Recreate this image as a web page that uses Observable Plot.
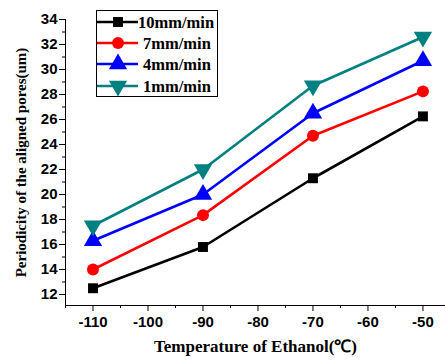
<!DOCTYPE html>
<html>
<head>
<meta charset="utf-8">
<script src="https://cdn.jsdelivr.net/npm/d3@7"></script>
<script src="https://cdn.jsdelivr.net/npm/@observablehq/plot@0.6"></script>
<style>
  html, body { margin: 0; padding: 0; background: #fff; }
  #chart { position: relative; width: 445px; height: 360px; }
</style>
</head>
<body>
<div id="chart"></div>
<script>
const temperatures = [-110, -90, -70, -50];
const seriesNames = ["10mm/min", "7mm/min", "4mm/min", "1mm/min"];
const seriesColors = ["#000000", "#ff0000", "#0000ff", "#008080"];
const seriesSymbols = ["square", "circle", "triangle", "triangle"];
const seriesRotate = [0, 0, 0, 180];
const v10 = [12.5, 15.8, 21.3, 26.25];
const v7 = [14.0, 18.35, 24.7, 28.25];
const v4 = [16.3, 20.0, 26.5, 30.7];
const v1 = [17.5, 22.0, 28.7, 32.6];
const seriesValues = [v10, v7, v4, v1];
const xMajorTicks = [-110, -100, -90, -80, -70, -60, -50];
const xMinorTicks = [-115, -105, -95, -85, -75, -65, -55];
const yMajorTicks = [12, 14, 16, 18, 20, 22, 24, 26, 28, 30, 32, 34];
const yMinorTicks = [13, 15, 17, 19, 21, 23, 25, 27, 29, 31, 33];
const xLabel = "Temperature of Ethanol(℃)";
const yLabel = "Periodicity of the aligned pores(um)";

const data = [];
seriesNames.forEach((name, i) => {
  temperatures.forEach((t, j) => {
    data.push({series: name, idx: i, t, v: seriesValues[i][j]});
  });
});

const xDomain = [-115, -45.9];
const yDomain = [11.12, 34];
const tickFont = "'Liberation Sans', Arial, sans-serif";
const serif = "'Liberation Serif', 'Times New Roman', serif";
const symR = s => s === "square" ? 5.6 : (s === "circle" ? 6 : 6.8);

const marks = [];
seriesNames.forEach((name, i) => {
  marks.push(Plot.line(data.filter(d => d.idx === i), {
    x: "t", y: "v", stroke: seriesColors[i], strokeWidth: 2.6
  }));
});
seriesNames.forEach((name, i) => {
  marks.push(Plot.dot(data.filter(d => d.idx === i), {
    x: "t", y: "v", symbol: () => seriesSymbols[i], r: symR(seriesSymbols[i]),
    fill: seriesColors[i], stroke: "none", rotate: seriesRotate[i]
  }));
});
marks.push(
  Plot.axisX({ticks: xMinorTicks, tickSize: 3, tickFormat: () => "", label: null}),
  Plot.axisX({ticks: xMajorTicks, tickSize: 6, tickPadding: 5, tickFormat: d => String(d),
    fontSize: 15, fontWeight: "bold", fontFamily: tickFont, label: null}),
  Plot.axisY({ticks: yMinorTicks, tickSize: 3, tickFormat: () => "", label: null}),
  Plot.axisY({ticks: yMajorTicks, tickSize: 6, tickPadding: 2, tickFormat: d => String(d),
    fontSize: 15, fontWeight: "bold", fontFamily: tickFont, label: null}),
  Plot.ruleX([xDomain[0]], {stroke: "#000", strokeWidth: 1}),
  Plot.ruleY([yDomain[0]], {stroke: "#000", strokeWidth: 1}),
  Plot.text([xLabel], {frameAnchor: "bottom", dy: 46, fontSize: 17, fontWeight: "bold",
    fontFamily: serif, fill: "#000"}),
  Plot.text([yLabel], {frameAnchor: "left", dx: -44, rotate: -90, textAnchor: "middle",
    fontSize: 15, fontWeight: "bold", fontFamily: serif, fill: "#000"})
);

const plot = Plot.plot({
  width: 445, height: 360,
  marginLeft: 65, marginRight: 0, marginTop: 19, marginBottom: 55,
  x: {domain: xDomain, axis: null, label: null},
  y: {domain: yDomain, axis: null, label: null},
  style: {background: "#fff", overflow: "visible"},
  marks
});
document.getElementById("chart").appendChild(plot);

// legend (layout only)
const svg = d3.select(plot);
const lg = svg.append("g").attr("transform", "translate(96,10)");
lg.append("rect").attr("x", 0.5).attr("y", 0.5).attr("width", 121).attr("height", 86)
  .attr("fill", "#fff").attr("stroke", "#000").attr("stroke-width", 1);
const rowY = [12, 33, 54, 76];
seriesNames.forEach((name, i) => {
  const g = lg.append("g").attr("transform", `translate(0,${rowY[i]})`);
  g.append("line").attr("x1", 1).attr("x2", 42).attr("y1", 0).attr("y2", 0)
    .attr("stroke", seriesColors[i]).attr("stroke-width", 2.6);
  const sym = {square: d3.symbolSquare, circle: d3.symbolCircle, triangle: d3.symbolTriangle}[seriesSymbols[i]];
  const r = symR(seriesSymbols[i]);
  g.append("path").attr("d", d3.symbol(sym, Math.PI * r * r)())
    .attr("transform", `translate(22,0) rotate(${seriesRotate[i]})`)
    .attr("fill", seriesColors[i]);
  g.append("text").attr("x", i === 0 ? 42 : 47).attr("y", 0).attr("dy", "0.35em")
    .attr("text-anchor", "start")
    .attr("font-family", serif).attr("font-weight", "bold").attr("font-size", 16.5)
    .attr("fill", "#000").text(name);
});
</script>
</body>
</html>
